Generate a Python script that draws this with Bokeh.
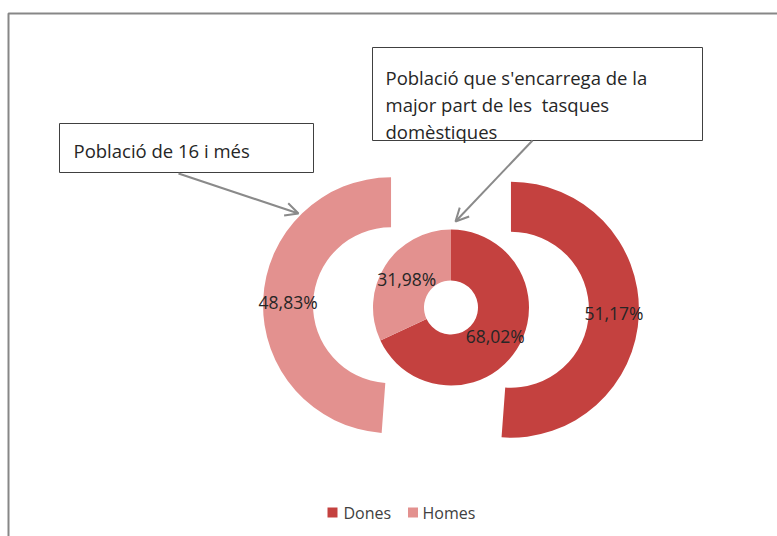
import numpy as np
from bokeh.plotting import figure
from bokeh.models import Range1d, Arrow, OpenHead
from bokeh.core.properties import value
from bokeh.embed import file_html
from bokeh.resources import INLINE

# ---- data ----
categories = ["Dones", "Homes"]
pop16 = [51.17, 48.83]          # outer ring: Població de 16 i més
tasques = [68.02, 31.98]        # inner ring: Població que s'encarrega de les tasques
colors = ["#C4413F", "#E3918F"]
callout1 = ["Població de 16 i més"]
callout2 = ["Població que s'encarrega de la", "major part de les \u00a0tasques", "domèstiques"]

# ---- layout ----
W, H = 777, 536
FONT = value("Open Sans")
def X(px): return px
def Y(py): return H - py

p = figure(width=W, height=H, x_range=Range1d(0, W), y_range=Range1d(0, H),
           output_backend="svg", toolbar_location=None, min_border=0,
           x_axis_location=None, y_axis_location=None)
p.grid.visible = False
p.outline_line_color = None
p.background_fill_color = "white"

# chart area border (extends beyond the window on right/bottom)
p.quad(left=[X(8)], right=[W + 20], top=[Y(13)], bottom=[-20],
       fill_color=None, line_color="#878787", line_width=2)

def angles(vals):
    fr = np.array(vals, dtype=float) / sum(vals)
    cum = np.concatenate([[0.0], np.cumsum(fr)])
    start = np.pi / 2 - cum[:-1] * 2 * np.pi
    end = np.pi / 2 - cum[1:] * 2 * np.pi
    return start, end, (start + end) / 2

def fmt(v):
    return f"{v:.2f}".replace(".", ",") + "%"

cx, cy = X(450.5), Y(307)
r_hole, r_mid, r_out = 27, 78, 128
explode = 60

# inner doughnut
s, e, m = angles(tasques)
p.annular_wedge(x=cx, y=cy, inner_radius=r_hole, outer_radius=r_mid,
                start_angle=s, end_angle=e, direction="clock",
                fill_color=colors, line_color=None)
rl = (r_hole + r_mid) / 2
p.text(x=cx + rl * np.cos(m), y=cy + rl * np.sin(m), text=[fmt(v) for v in tasques],
       text_align="center", text_baseline="middle", text_font=FONT,
       text_font_size="17.5px", text_color="#262626")

# outer ring, exploded
s, e, m = angles(pop16)
ox = cx + explode * np.cos(m)
oy = cy + explode * np.sin(m)
p.annular_wedge(x=ox, y=oy, inner_radius=r_mid, outer_radius=r_out,
                start_angle=s, end_angle=e, direction="clock",
                fill_color=colors, line_color=None)
rl = (r_mid + r_out) / 2
p.text(x=ox + rl * np.cos(m), y=oy + rl * np.sin(m), text=[fmt(v) for v in pop16],
       text_align="center", text_baseline="middle", text_font=FONT,
       text_font_size="17.5px", text_color="#262626")

# callout boxes
p.quad(left=[X(59), X(372)], right=[X(313), X(702)], top=[Y(123), Y(47)],
       bottom=[Y(172), Y(140)], fill_color="white", line_color="#404040", line_width=1)
p.text(x=[X(73)], y=[Y(150)], text=callout1, text_align="left",
       text_baseline="alphabetic", text_font=FONT, text_font_size="18.5px",
       text_color="#262626")
p.text(x=[X(385)] * 3, y=[Y(77), Y(104), Y(131)], text=callout2, text_align="left",
       text_baseline="alphabetic", text_font=FONT, text_font_size="18.5px",
       text_color="#262626")

gray = "#8a8a8a"
p.add_layout(Arrow(end=OpenHead(size=13, line_color=gray, line_width=2),
                   x_start=X(178), y_start=Y(173), x_end=X(298), y_end=Y(213),
                   line_color=gray, line_width=2))
p.add_layout(Arrow(end=OpenHead(size=13, line_color=gray, line_width=2),
                   x_start=X(532), y_start=Y(140), x_end=X(455), y_end=Y(221),
                   line_color=gray, line_width=2))

# legend
lx_sq = [X(332), X(412.5)]
lx_tx = [X(343), X(422)]
ly = Y(512)
p.rect(x=lx_sq, y=[ly, ly], width=10, height=10, fill_color=colors, line_color=None)
p.text(x=lx_tx, y=[ly, ly], text=categories, text_align="left", text_baseline="middle",
       text_font=FONT, text_font_size="16px", text_color="#404040")

open("out.html", "w").write(file_html(p, INLINE))
